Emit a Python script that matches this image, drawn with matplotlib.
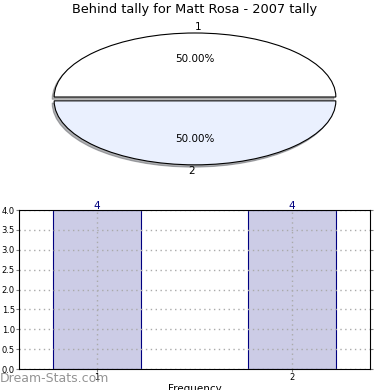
import matplotlib
matplotlib.use("Agg")
import matplotlib.pyplot as plt

title = "Behind tally for Matt Rosa - 2007 tally"
pie_labels = ["1", "2"]
pie_values = [50, 50]
pie_colors = ["#ffffff", "#eaf0fe"]

bar_x = [1, 2]
bar_values = [4, 4]

fig = plt.figure(figsize=(3.9, 3.9), dpi=100)

# pie on top (stretched, not round)
ax1 = fig.add_axes([26 / 390, 0.533, 338 / 390, 0.4267])
wedges, texts, autotexts = ax1.pie(
    pie_values, labels=pie_labels, colors=pie_colors, startangle=0,
    explode=[0.03, 0.03], shadow={"ox": -0.01, "oy": -0.025, "shade": 0.6},
    autopct="%1.2f%%", pctdistance=0.6, labeldistance=1.1,
    wedgeprops={"edgecolor": "black", "linewidth": 0.8},
    textprops={"fontsize": 7.5})
texts[0].set_ha("left")
texts[1].set_ha("right")
ax1.set_aspect("auto")
ax1.set_xlim(-1.2, 1.2)
ax1.set_ylim(-1.3, 1.3)
fig.text(0.5, 1 - 10 / 390, title, ha="center", va="center", fontsize=9.3)

# frequency bars below
ax2 = fig.add_axes([19 / 390, 0.0538, 351 / 390, 0.4077])
bars = ax2.bar(bar_x, bar_values, width=0.45, color="#ccccE6", edgecolor="navy", linewidth=0.8)
for x, v in zip(bar_x, bar_values):
    ax2.text(x, v - 0.02, str(v), ha="center", va="bottom", color="navy", fontsize=7.5)
ax2.set_xlim(0.6, 2.4)
ax2.set_ylim(0, 4)
ax2.set_yticks([0, 0.5, 1, 1.5, 2, 2.5, 3, 3.5, 4])
ax2.set_xticks(bar_x)
ax2.tick_params(labelsize=6, length=2, pad=1, color="gray", right=True)
ax2.grid(True, linestyle=(0, (1, 2.5)), color="#aaaaaa", linewidth=1)
ax2.set_axisbelow(False)
for sp in ax2.spines.values():
    sp.set_zorder(5)
ax2.set_xlabel("Frequency", fontsize=7.5, labelpad=1)

fig.text(0.0, 1 - 378 / 390, "Dream-Stats.com", fontsize=9, color="#888888",
         va="center", alpha=0.9)

fig.savefig("out.png", dpi=100)
